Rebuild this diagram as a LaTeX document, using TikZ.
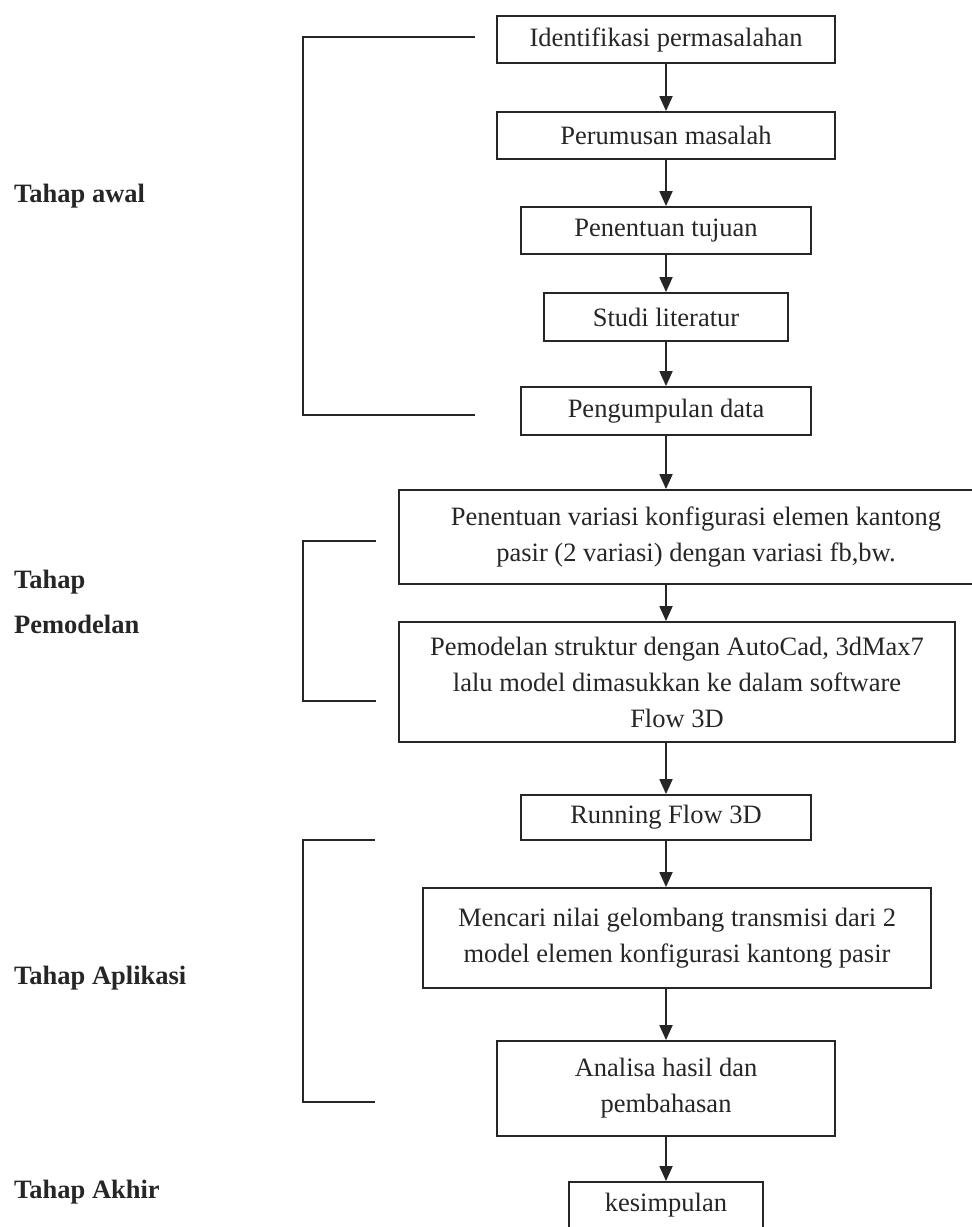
\documentclass[tikz,border=0pt]{standalone}
\usepackage{fontspec}
\setmainfont{Liberation Serif}
\usepackage{tikz}
\usetikzlibrary{arrows.meta,positioning}
\definecolor{ink}{HTML}{262626}

\begin{document}
\begin{tikzpicture}[x=1pt,y=-1pt,
    procbox/.style={draw=ink,line width=1.8pt,inner sep=0pt,align=center,
      text=ink,font=\fontsize{26.5}{36}\selectfont},
    phase/.style={anchor=west,align=left,inner sep=0pt,text=ink,
      font=\fontsize{26.5}{45}\selectfont\bfseries},
    flow/.style={draw=ink,line width=1.8pt,-{Triangle[length=15pt,width=13pt]}},
    bracket/.style={draw=ink,line width=1.8pt}]
  \useasboundingbox (0,0) rectangle (972,1227);

  % main column
  \node[procbox,minimum width=338,minimum height=47] (idf) at (666,39.5) {Identifikasi permasalahan};
  \node[procbox,minimum width=338,minimum height=47] (rum) at (666,135.5) {Perumusan masalah};
  \node[procbox,minimum width=290,minimum height=47] (tuj) at (666,230.5) {Penentuan tujuan};
  \node[procbox,minimum width=244,minimum height=48] (lit) at (666,317) {Studi literatur};
  \node[procbox,minimum width=290,minimum height=48] (dat) at (666,411) {Pengumpulan data};
  \node[procbox,minimum width=594,minimum height=94] (var) at (696,537)
    {Penentuan variasi konfigurasi elemen kantong\\pasir (2 variasi) dengan variasi fb,bw.};
  \node[procbox,minimum width=556,minimum height=120] (mod) at (677,682)
    {Pemodelan struktur dengan AutoCad, 3dMax7\\lalu model dimasukkan ke dalam software\\Flow 3D};
  \node[procbox,minimum width=290,minimum height=45] (run) at (666,817.5) {Running Flow 3D};
  \node[procbox,minimum width=508,minimum height=100] (cari) at (677,938)
    {Mencari nilai gelombang transmisi dari 2\\model elemen konfigurasi kantong pasir};
  \node[procbox,minimum width=338,minimum height=95] (anal) at (666,1088.5)
    {Analisa hasil dan\\pembahasan};
  \node[procbox,minimum width=194,minimum height=47] (simp) at (666,1205.5) {kesimpulan};

  % arrows
  \draw[flow] (idf) -- (rum);
  \draw[flow] (rum) -- (tuj);
  \draw[flow] (tuj) -- (lit);
  \draw[flow] (lit) -- (dat);
  \draw[flow] (dat.south) -- (dat.south |- var.north);
  \draw[flow] (var.south -| dat.south) -- (mod.north -| dat.south);
  \draw[flow] (mod.south -| run.north) -- (run.north);
  \draw[flow] (run.south) -- (run.south |- cari.north);
  \draw[flow] (cari.south -| anal.north) -- (anal.north);
  \draw[flow] (anal) -- (simp);

  % phase brackets
  \draw[bracket] (475,37) -| (303,415) -- (475,415);
  \draw[bracket] (376,541) -| (303,701) -- (376,701);
  \draw[bracket] (375,840) -| (303,1102) -- (375,1102);

  % phase labels
  \node[phase] (awal) at (14,196) {Tahap awal};
  \node[phase] (pemodelan) at (14,601.5) {Tahap\\Pemodelan};
  \node[phase] (aplikasi) at (14,978) {Tahap Aplikasi};
  \node[phase] (akhir) at (14,1192) {Tahap Akhir};
\end{tikzpicture}
\end{document}
